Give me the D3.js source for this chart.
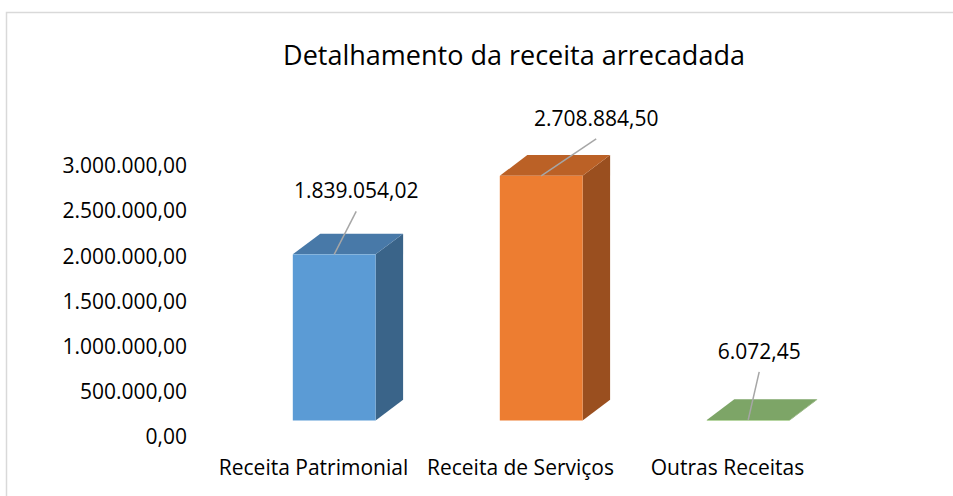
<!DOCTYPE html>
<html>
<head>
<meta charset="utf-8">
<script src="https://cdn.jsdelivr.net/npm/d3@7"></script>
<style>
  body { margin: 0; background: #fff; }
  text { font-family: "Open Sans", Lato, sans-serif; fill: #000; }
</style>
</head>
<body>
<div id="chart"></div>
<script>
// chart data
var categories = ["Receita Patrimonial", "Receita de Serviços", "Outras Receitas"];
var values = [1839054.02, 2708884.50, 6072.45];
var yTicks = [0, 500000, 1000000, 1500000, 2000000, 2500000, 3000000];
var titleText = "Detalhamento da receita arrecadada";

// colours of the faces (front, top, side)
var frontColors = ["#5b9bd5", "#ed7d31", "#70ad47"];
var topColors = ["#4879a8", "#bb6126", "#7da567"];
var sideColors = ["#3a6489", "#9a4f1f", "#5a8a39"];

// hand placed data labels, offset from the top of the bar front
var labelDx = [22, 55, 11];
var labelDy = [-56, -50, -61];

var svgWidth = 953;
var svgHeight = 496;

var depthX = 27.5;
var depthY = -20.7;

var ptBR = d3.formatLocale({decimal: ",", thousands: ".", grouping: [3], currency: ["R$", ""]});
var fmt = ptBR.format(",.2f");

var svg = d3.select("#chart")
    .append("svg")
    .attr("width", svgWidth)
    .attr("height", svgHeight);

// outer border, right and bottom edges fall off the picture
svg.append("rect")
    .attr("x", 6.5)
    .attr("y", 12.5)
    .attr("width", 1000)
    .attr("height", 600)
    .attr("fill", "none")
    .attr("stroke", "#d9d9d9")
    .attr("stroke-width", 1.5);

svg.append("text")
    .attr("x", 514)
    .attr("y", 65)
    .attr("text-anchor", "middle")
    .attr("font-size", "27px")
    .text(titleText);

// scales
var xScale = d3.scaleBand()
    .domain(categories)
    .range([210, 831]);

var yAxisScale = d3.scaleLinear()
    .domain([0, 3000000])
    .range([437, 166]);

// the bar fronts sit lower than the axis because of the 3D floor
var yBar = d3.scaleLinear()
    .domain([0, 3000000])
    .range([420.5, 149.5]);

// y axis, labels only
var leftAxis = d3.axisLeft(yAxisScale)
    .tickValues(yTicks)
    .tickFormat(fmt)
    .tickSize(0)
    .tickPadding(0);

var yAxisG = svg.append("g")
    .attr("transform", "translate(187, 0)")
    .call(leftAxis);
yAxisG.select(".domain").remove();
yAxisG.selectAll("text")
    .attr("font-size", "21px")
    .attr("font-family", "'Open Sans', sans-serif")
    .attr("fill", "#000");

// category axis
var bottomAxis = d3.axisBottom(xScale)
    .tickSize(0)
    .tickPadding(0);

var xAxisG = svg.append("g")
    .attr("transform", "translate(0, 460)")
    .call(bottomAxis);
xAxisG.select(".domain").remove();
xAxisG.selectAll("text")
    .attr("font-size", "21px")
    .attr("font-family", "'Open Sans', sans-serif")
    .attr("fill", "#000")
    .attr("dy", "0.71em");

var barW = xScale.bandwidth() * 0.4;
function frontX(d, i) { return xScale(categories[i]) + xScale.bandwidth() * 0.4; }

var bars = svg.selectAll(".bar")
    .data(values)
    .enter()
    .append("g")
    .attr("class", "bar");

// side face
bars.append("polygon")
    .attr("points", function (d, i) {
        var x1 = frontX(d, i) + barW;
        var yt = yBar(d), yb = yBar(0);
        return [[x1, yt], [x1 + depthX, yt + depthY], [x1 + depthX, yb + depthY], [x1, yb]].join(" ");
    })
    .attr("fill", function (d, i) { return sideColors[i]; });

// top face
bars.append("polygon")
    .attr("points", function (d, i) {
        var x0 = frontX(d, i);
        var yt = yBar(d);
        return [[x0, yt], [x0 + depthX, yt + depthY], [x0 + barW + depthX, yt + depthY], [x0 + barW, yt]].join(" ");
    })
    .attr("fill", function (d, i) { return topColors[i]; });

// front face
bars.append("rect")
    .attr("x", frontX)
    .attr("y", function (d) { return yBar(d); })
    .attr("width", barW)
    .attr("height", function (d) { return yBar(0) - yBar(d); })
    .attr("fill", function (d, i) { return frontColors[i]; });

// leader lines
bars.append("line")
    .attr("x1", function (d, i) { return frontX(d, i) + barW / 2; })
    .attr("y1", function (d) { return yBar(d); })
    .attr("x2", function (d, i) { return frontX(d, i) + barW / 2 + labelDx[i]; })
    .attr("y2", function (d, i) { return yBar(d) + labelDy[i] + 13; })
    .attr("stroke", "#a6a6a6")
    .attr("stroke-width", 1.5);

// data labels
bars.append("text")
    .attr("x", function (d, i) { return frontX(d, i) + barW / 2 + labelDx[i]; })
    .attr("y", function (d, i) { return yBar(d) + labelDy[i]; })
    .attr("text-anchor", "middle")
    .attr("font-size", "21px")
    .text(function (d) { return fmt(d); });
</script>
</body>
</html>
